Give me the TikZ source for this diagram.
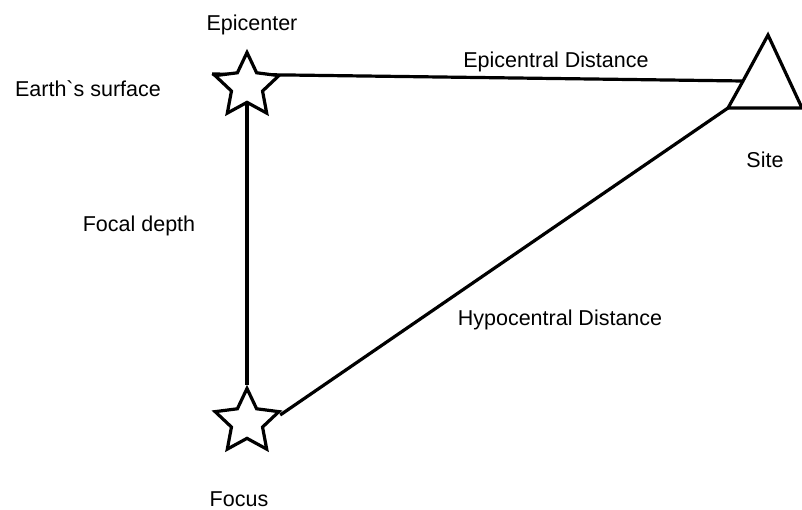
\documentclass[tikz,border=0pt]{standalone}
\usepackage{fontspec}
\newfontfamily\labelfont{Liberation Sans}
\usetikzlibrary{shapes.geometric, calc}

\begin{document}
\begin{tikzpicture}[
        x=1pt, y=-1pt,
        pt/.style={
            draw,
            star,
            star points=5,
            star point ratio=2.05,
            minimum size=67pt,
            inner sep=0pt,
            line width=3.2pt,
            fill=white
        },
        lbl/.style={
            anchor=base,
            inner sep=0pt,
            font=\labelfont\fontsize{21.5}{26}\selectfont
        },
        link/.style={
            line width=3.2pt
        }
    ]

    \useasboundingbox (0,0) rectangle (802,510);

    % site triangle
    \coordinate (apex) at (768,35);
    \coordinate (siteL) at (728,108);
    \coordinate (siteR) at (802,108);
    \coordinate (siteS) at (743,81);

    \draw[link] (siteS) -- (apex) -- (siteR) -- (siteL) -- cycle;

    % lines first, stars on top
    \coordinate (surf) at (212,74);
    \draw[link] (surf) -- (siteS);

    \node[pt] (epi) at (247,86) {};
    \node[pt] (focus) at (247,422) {};

    \draw[link] (epi.south) -- (focus.north);
    \draw[link] ([shift={(10,-7)}]focus.east) -- (siteL);

    \node[lbl] (tepi) at (252,31) {Epicenter};
    \node[lbl] (tsurf) at (88,97) {Earth`s surface};
    \node[lbl] (tdist) at (556,68) {Epicentral Distance};
    \node[lbl] (tsite) at (765,168) {Site};
    \node[lbl] (tdepth) at (139,232) {Focal depth};
    \node[lbl] (thypo) at (560,325) {Hypocentral Distance};
    \node[lbl] (tfocus) at (239,506) {Focus};

    \end{tikzpicture}
\end{document}
